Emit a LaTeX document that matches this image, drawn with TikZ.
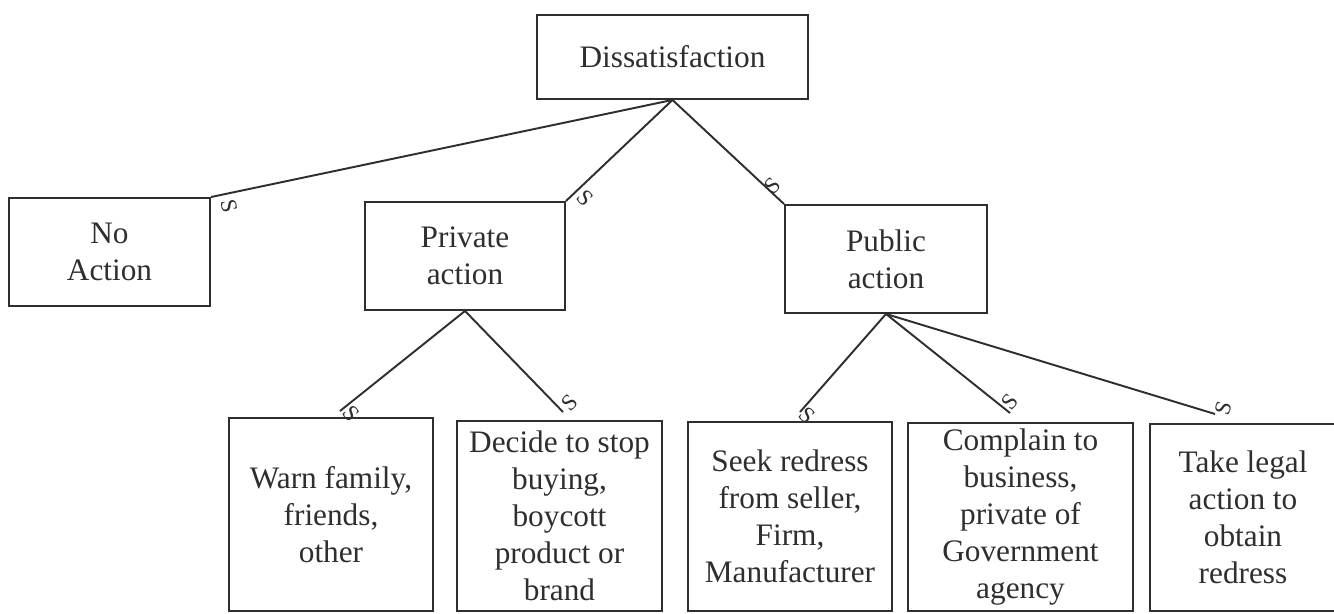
\documentclass[tikz,border=0pt]{standalone}
\usepackage{fontspec}
\setmainfont{Liberation Serif}
\usetikzlibrary{calc,positioning}

\tikzset{
	box/.style={draw, line width=1.1pt, align=center, inner sep=0pt,
		font=\fontsize{17.8}{21}\selectfont},
	link/.style={line width=1.1pt},
	slab/.style={inner sep=0pt, font=\fontsize{13}{14}\selectfont}
}

\begin{document}
\begin{tikzpicture}[x=0.02cm, y=-0.02cm, color=black!82]
                    \useasboundingbox (0,0) rectangle (1334,614);
                    
                    % Top box
                    \node [box, minimum width=5.42cm, minimum height=1.68cm] (diss) at (672.5,57) {Dissatisfaction};%
                    
                    % Second row
                    \node [box, minimum width=4.02cm, minimum height=2.16cm] (noact) at (109.5,252) {No\\Action};%
                    \node [box, minimum width=4.00cm, minimum height=2.16cm] (priv) at (465,256) {Private\\action};%
                    \node [box, minimum width=4.04cm, minimum height=2.16cm] (publ) at (886,259) {Public\\action};%
                    
                    % Third row
                    \node [box, minimum width=4.08cm, minimum height=3.86cm] (warn) at (331,514.5) {Warn family,\\friends,\\other};%
                    \node [box, minimum width=4.10cm, minimum height=3.80cm] (decide) at (559.5,516) {Decide to stop\\buying,\\boycott\\product or\\brand};%
                    \node [box, minimum width=4.08cm, minimum height=3.78cm] (seek) at (790,516.5) {Seek redress\\from seller,\\Firm,\\Manufacturer};%
                    \node [box, minimum width=4.50cm, minimum height=3.76cm] (complain) at (1020.5,517) {Complain to\\business,\\private of\\Government\\agency};%
                    \node [box, minimum width=3.72cm, minimum height=3.74cm] (legal) at (1243,517.5) {Take legal\\action to\\obtain\\redress};%
                    
                    % Free ends of the lower links
                    \coordinate (warnend) at (340,411);%
                    \coordinate (decideend) at (563,412);%
                    \coordinate (seekend) at (800,412);%
                    \coordinate (complainend) at (1010,413);%
                    \coordinate (legalend) at (1215,414);%
                    
                    % Links from Dissatisfaction
                    \draw [link] (diss.south) -- (noact.north east);%
                    \draw [link] (diss.south) -- (priv.north east);%
                    \draw [link] (diss.south) -- (publ.north west);%
                    
                    % Links from Private action
                    \draw [link] (priv.south) -- (warnend);%
                    \draw [link] (priv.south) -- (decideend);%
                    
                    % Links from Public action
                    \draw [link] (publ.south) -- (seekend);%
                    \draw [link] (publ.south) -- (complainend);%
                    \draw [link] (publ.south) -- (legalend);%
                    
                    % S marks at the link ends
                    \node [slab, rotate=-78] (s1) at (229,206) {S};%
                    \node [slab, rotate=-47] (s2) at (585,198) {S};%
                    \node [slab, rotate=46] (s3) at (773,186) {S};%
                    \node [slab, rotate=-50] (s4) at (351,414) {S};%
                    \node [slab, rotate=45] (s5) at (570,403) {S};%
                    \node [slab, rotate=-43] (s6) at (807,415) {S};%
                    \node [slab, rotate=50] (s7) at (1010,402) {S};%
                    \node [slab, rotate=73] (s8) at (1223,408) {S};%
                \end{tikzpicture}
\end{document}
